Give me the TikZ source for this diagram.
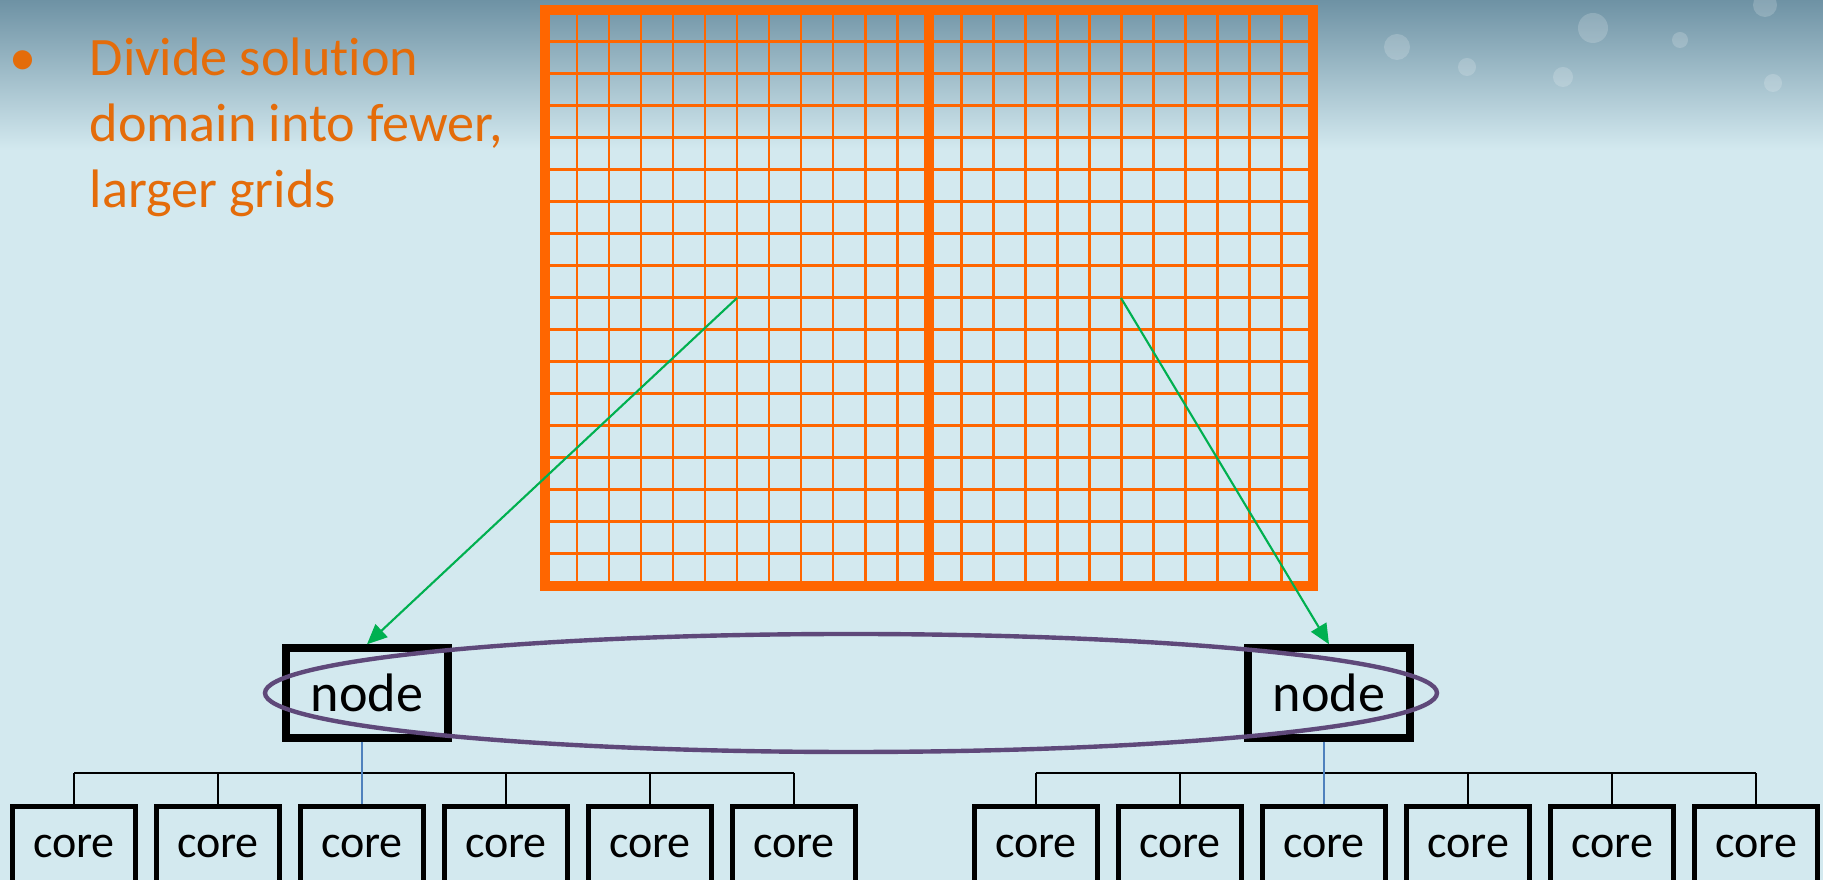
\documentclass[tikz,border=0pt]{standalone}
\usepackage{fontspec}
\setmainfont[Ligatures=NoCommon]{Carlito}
\usetikzlibrary{
	positioning				% relative placement
	, arrows.meta			% Triangle tips
	, calc
}
\definecolor{slideorange}{HTML}{E46C0A}
\definecolor{gridorange}{HTML}{FF6600}
\definecolor{sky}{HTML}{D3E9EF}
\definecolor{skymid}{HTML}{A6C5D1}
\definecolor{skytop}{HTML}{6E92A4}
\definecolor{ringpurple}{HTML}{5F497A}
\definecolor{arrowgreen}{HTML}{00B050}
\definecolor{linkblue}{HTML}{4F81BD}

\begin{document}
\begin{tikzpicture}[
			x=0.01cm, y=-0.01cm,
			machine/.style={
				rectangle,
				draw=black, line width=2.1pt,
				minimum width=1.62cm,
				minimum height=0.9cm,
				inner sep=0pt,
				font=\fontsize{15.4}{18}\selectfont
			},
			core/.style={
				machine,
				line width=1.42pt,
				minimum width=1.23cm,
				minimum height=0.78cm,
				font=\fontsize{13.1}{15}\selectfont
			},
			bullettext/.style={
				text=slideorange,
				inner sep=0pt,
				font=\fontsize{15.4}{18.8}\selectfont
			},
			cell/.style={draw=gridorange, line width=0.85pt},
			frame/.style={draw=gridorange, line width=2.85pt},
			ring/.style={draw=ringpurple, line width=1.25pt},
			bus/.style={draw=black, line width=0.4pt},
			link/.style={draw=linkblue, line width=0.4pt},
			arrow/.style={
				-{Triangle[length=5.7pt, width=5pt]},
				draw=arrowgreen, line width=0.6pt
			}]

			\useasboundingbox (0,0) rectangle (1823,880);

			%%% Slide background
			\fill[sky] (0,0) rectangle (1823,880);
			\shade[top color=skytop, middle color=skymid, bottom color=sky] (0,0) rectangle (1823,150);
			\foreach \x/\y/\r in {1397/47/13, 1593/28/15, 1765/5/12, 1563/77/10, 1680/40/8, 1467/67/9, 1773/83/9} {
				\fill[white, opacity=0.18] (\x,\y) circle [radius=\r];
			};

			%%% Bullet text (base anchor sits on the last line)
			\node [bullettext, anchor=base] (bullet) at (23,76) {•};
			\node [bullettext, anchor=base west, align=left] (divide) at (89,208) {Divide solution\\domain into fewer,\\larger grids};

			%%% The solution domain, split in two grids
			\foreach \k in {1,...,23} {
				\draw [cell] ({545+32*\k},10) -- ({545+32*\k},586);
			};
			\foreach \k in {1,...,17} {
				\draw [cell] (545,{10+32*\k}) -- (1313,{10+32*\k});
			};
			\draw [frame] (545,10) rectangle (1313,586);
			\draw [frame] (929,10) -- (929,586);

			\coordinate (cellL) at (737,298);
			\coordinate (cellR) at (1121,298);

			%%% Compute nodes and their cores
			\node [machine] (nodeL) at (367,693) {node};
			\node [machine] (nodeR) at (1329,693) {node};

			\foreach \i in {1,...,6} {
				\node [core] (coreL\i) at ({74+144*(\i-1)},846) {core};
				\node [core] (coreR\i) at ({1036+144*(\i-1)},846) {core};
			};

			\coordinate (busL) at (0,773);
			\draw [bus] (coreL1.north |- busL) -- (coreL6.north |- busL);
			\draw [bus] (coreR1.north |- busL) -- (coreR6.north |- busL);
			\foreach \i in {1,2,4,5,6} {
				\draw [bus] (coreL\i.north) -- (coreL\i.north |- busL);
				\draw [bus] (coreR\i.north) -- (coreR\i.north |- busL);
			};
			\draw [link] (nodeL.south -| coreL3.north) -- (coreL3.north);
			\draw [link] (nodeR.south -| coreR3.north) -- (coreR3.north);

			%%% Ring round the nodes
			\draw [ring] (851,693) ellipse [x radius=586, y radius=59];

			%%% Grids handed to nodes
			\draw [arrow] (cellL) -- (nodeL.north);
			\draw [arrow] (cellR) -- (nodeR.north);

		\end{tikzpicture}
\end{document}
